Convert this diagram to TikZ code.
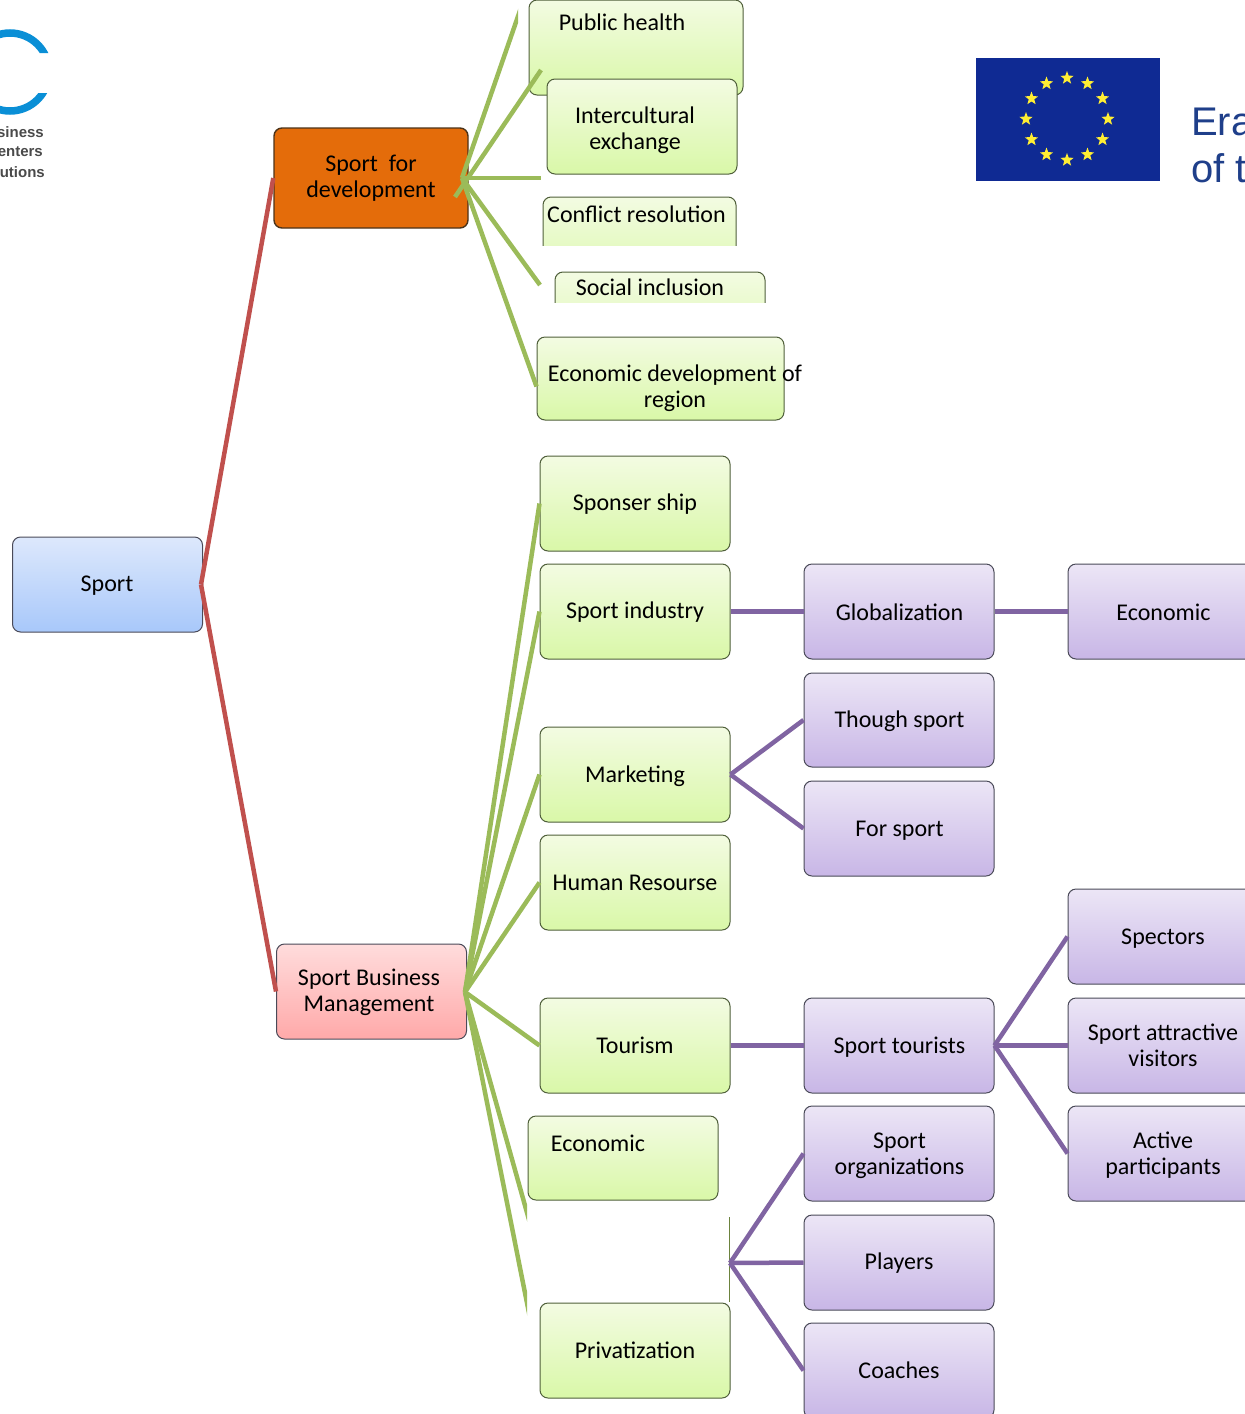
\documentclass[tikz,border=0pt]{standalone}
\usepackage{fontspec}
\setmainfont{Carlito}
\newfontfamily\logofont{Liberation Sans}
\usetikzlibrary{calc}
\usetikzlibrary{shapes.geometric}

\definecolor{linkr}{HTML}{C0504D}
\definecolor{linkg}{HTML}{9BBB59}
\definecolor{linkp}{HTML}{8064A2}
\definecolor{edgeg}{HTML}{4F5F3A}
\definecolor{edgep}{HTML}{4A4A58}
\definecolor{logoblue}{HTML}{0A8FD6}
\definecolor{logotext}{HTML}{4A4A4A}
\definecolor{flagblue}{HTML}{0F2A93}
\definecolor{flagstar}{HTML}{FFEE33}
\definecolor{erasblue}{HTML}{1F3F8A}

\tikzset{
    boxbase/.style={draw,rounded corners=8pt,minimum width=190pt,minimum height=95pt,inner sep=0pt,align=center,line width=1pt},
    greenbox/.style={boxbase,draw=edgeg,top color={rgb,255:red,243;green,251;blue,226},bottom color={rgb,255:red,217;green,248;blue,168}},
    purplebox/.style={boxbase,draw=edgep,top color={rgb,255:red,236;green,230;blue,246},bottom color={rgb,255:red,200;green,182;blue,230}},
    boxlabel/.style={inner sep=0pt,align=center},
    logolabel/.style={anchor=east,inner sep=0pt,text=logotext,font=\logofont\bfseries\fontsize{15}{15}\selectfont},
    eraslabel/.style={anchor=west,inner sep=0pt,text=erasblue,font=\logofont\fontsize{40}{40}\selectfont},
    linkred/.style={line width=4.5pt,color=linkr},
    linkgreen/.style={line width=4.5pt,color=linkg},
    linkpurple/.style={line width=4.5pt,color=linkp},
}

\begin{document}
\begin{tikzpicture}[x=1pt,y=-1pt,font=\fontsize{24}{26}\selectfont]
                \useasboundingbox (0,0) rectangle (1245,1414);

                % logo
                \begin{scope}
                    \clip (-10,0) rectangle (60,53) (-10,93) rectangle (60,130);
                    \draw[line width=7.5pt,color=logoblue] (10,72) circle[radius=39];
                \end{scope}
                \node[logolabel] (logoa) at (44,132) {siness};
                \node[logolabel] (logob) at (43,152) {enters};
                \node[logolabel] (logoc) at (45,172) {utions};

                % flag
                \fill[color=flagblue] (976,58) rectangle (1160,181);
                \foreach \i in {1,...,12}
                    \node[star,star points=5,star point ratio=2.4,fill=flagstar,inner sep=0pt,minimum size=14pt] (star\i) at ($(1067,119)+(\i*30:41)$) {};
                \node[eraslabel] (erasa) at (1191,122) {Era};
                \node[eraslabel] (erasb) at (1191,168) {of t};

                % root and main branches
                \node[boxbase,draw=edgep,top color={rgb,255:red,221;green,232;blue,252},bottom color={rgb,255:red,168;green,200;blue,250}] (sport) at (107.5,584.5) {};
                \node[boxlabel] (sporttext) at (107,586) {Sport};
                \node[boxbase,minimum width=194pt,minimum height=100pt,draw=black!60!brown,line width=1.4pt,fill={rgb,255:red,228;green,108;blue,10}] (sfd) at (371,178) {Sport\ \ for\\development};
                \node[boxbase,draw=edgep,top color={rgb,255:red,255;green,220;blue,220},bottom color={rgb,255:red,255;green,169;blue,169}] (sbm) at (371.5,991.5) {};
                \node[boxlabel] (sbmtext) at (369,992.5) {Sport Business\\Management};

                \draw[linkred] ([xshift=-2pt]sport.east) -- (sfd.west);
                \draw[linkred] ([xshift=-2pt]sport.east) -- (sbm.west);

                % top green boxes
                \node[greenbox,minimum width=214pt] (health) at (636,47.5) {};
                \node[boxlabel] (healthtext) at (622,22) {Public health};
                \node[greenbox] (exchange) at (642,126.5) {};
                \node[boxlabel] (exchangetext) at (635,130) {Intercultural\\exchange};
                \begin{scope}
                    \clip (500,190) rectangle (780,245);
                    \node[greenbox,minimum width=193pt] (conflict) at (639.5,244.5) {};
                \end{scope}
                \node[boxlabel] (conflicttext) at (636.5,214) {Conflict resolution};
                \begin{scope}
                    \clip (500,265) rectangle (780,302);
                    \node[greenbox,minimum width=210pt] (inclusion) at (660,319.5) {};
                \end{scope}
                \node[boxlabel] (inclusiontext) at (650,287) {Social inclusion};
                \node[greenbox,minimum width=247pt,minimum height=83pt] (region) at (660.5,378.5) {};
                \node[boxlabel] (regiontext) at (675,388.5) {Economic development of\\region};

                \coordinate (sfdhub) at (462,178);
                \coordinate (sfdtick) at (455,197);
                \coordinate (endhealth) at (524,-1);
                \coordinate (endexchange) at (541,70);
                \coordinate (endconflict) at (541,178);
                \coordinate (endinclusion) at (540,285);
                \begin{scope}
                    \clip (400,0) rectangle (518,180);
                    \draw[linkgreen] (sfdhub) -- (endhealth);
                \end{scope}
                \draw[linkgreen] (sfdtick) -- (endexchange);
                \draw[linkgreen] (sfdhub) -- (endconflict);
                \draw[linkgreen] (sfdhub) -- (endinclusion);
                \draw[linkgreen] (sfdhub) -- ([yshift=-8pt]region.west);

                % lower green boxes
                \node[greenbox] (sponser) at (635,503.5) {};
                \node[boxlabel] (sponsertext) at (635,504.5) {Sponser ship};
                \node[greenbox] (industry) at (635,611.5) {};
                \node[boxlabel] (industrytext) at (635,612.5) {Sport industry};
                \node[greenbox] (marketing) at (635,774.5) {};
                \node[boxlabel] (marketingtext) at (635,776) {Marketing};
                \node[greenbox] (resourse) at (635,882.5) {};
                \node[boxlabel] (resoursetext) at (635,883) {Human Resourse};
                \node[greenbox] (tourism) at (635,1045.5) {};
                \node[boxlabel] (tourismtext) at (635,1045) {Tourism};
                \node[greenbox,minimum height=84pt] (economic) at (623,1158) {};
                \node[boxlabel] (economictext) at (598,1143) {Economic};
                \node[greenbox] (privatization) at (635,1350.5) {};
                \node[boxlabel] (privatizationtext) at (635,1350) {Privatization};

                \coordinate (sbmhub) at (465,992);
                \coordinate (endeconomic) at (533,1234);
                \coordinate (endprivate) at (533,1333);
                \draw[linkgreen] (sbmhub) -- (sponser.west);
                \draw[linkgreen] (sbmhub) -- (industry.west);
                \draw[linkgreen] (sbmhub) -- (marketing.west);
                \draw[linkgreen] (sbmhub) -- (resourse.west);
                \draw[linkgreen] (sbmhub) -- (tourism.west);
                \begin{scope}
                    \clip (400,990) rectangle (527,1400);
                    \draw[linkgreen] (sbmhub) -- (endeconomic);
                    \draw[linkgreen] (sbmhub) -- (endprivate);
                \end{scope}

                % purple boxes
                \node[purplebox] (globalization) at (899,611.5) {};
                \node[boxlabel] (globalizationtext) at (899.5,612) {Globalization};
                \node[purplebox] (economy) at (1163,611.5) {};
                \node[boxlabel] (economytext) at (1163.5,612) {Economic};
                \node[purplebox,minimum height=94pt] (though) at (899,720) {};
                \node[boxlabel] (thoughtext) at (899.5,721) {Though sport};
                \node[purplebox] (forsport) at (899,828.5) {};
                \node[boxlabel] (forsporttext) at (899.5,831) {For sport};
                \node[purplebox] (tourists) at (899,1045.5) {};
                \node[boxlabel] (touriststext) at (899.5,1047) {Sport tourists};
                \node[purplebox] (organizations) at (899,1153.5) {};
                \node[boxlabel] (organizationstext) at (899.5,1156) {Sport\\organizations};
                \node[purplebox] (players) at (899,1262.5) {};
                \node[boxlabel] (playerstext) at (899,1263.5) {Players};
                \node[purplebox] (coaches) at (899,1370.5) {};
                \node[boxlabel] (coachestext) at (899,1370) {Coaches};
                \node[purplebox] (spectors) at (1163,936.5) {};
                \node[boxlabel] (spectorstext) at (1163,939) {Spectors};
                \node[purplebox] (visitors) at (1163,1045.5) {};
                \node[boxlabel] (visitorstext) at (1163,1045.5) {Sport attractive\\visitors};
                \node[purplebox] (participants) at (1163,1153.5) {};
                \node[boxlabel] (participantstext) at (1163,1155) {Active\\participants};

                \draw[linkpurple] (industry.east) -- (globalization.west);
                \draw[linkpurple] (globalization.east) -- (economy.west);
                \draw[linkpurple] (marketing.east) -- (though.west);
                \draw[linkpurple] (marketing.east) -- (forsport.west);
                \draw[linkpurple] (tourism.east) -- (tourists.west);
                \draw[linkpurple] (tourists.east) -- (spectors.west);
                \draw[linkpurple] (tourists.east) -- (visitors.west);
                \draw[linkpurple] (tourists.east) -- (participants.west);

                \coordinate (hubtop) at (729.5,1217);
                \coordinate (hubbottom) at (729.5,1302);
                \coordinate (hub) at (730,1263);
                \draw[line width=1pt,color=linkg!70!black] (hubtop) -- (hubbottom);
                \draw[linkpurple] (hub) -- (organizations.west);
                \draw[linkpurple] (hub) -- (players.west);
                \draw[linkpurple] (hub) -- (coaches.west);
\end{tikzpicture}
\end{document}
